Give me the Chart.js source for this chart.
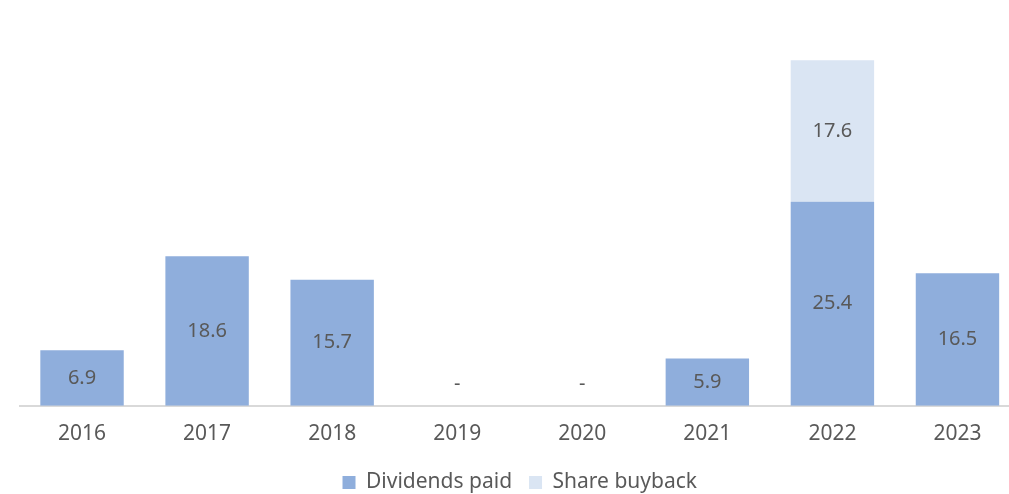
<!DOCTYPE html>
<html>
<head>
<meta charset="utf-8">
<script src="https://cdn.jsdelivr.net/npm/chart.js@4/dist/chart.umd.min.js"></script>
<style>
  html, body { margin: 0; padding: 0; background: #fff; overflow: hidden; }
  #wrap { width: 1009px; height: 494px; overflow: hidden; }
</style>
</head>
<body>
<div id="wrap"><canvas id="grafico" width="1020" height="503"></canvas></div>
<script>
const anios = ['2016', '2017', '2018', '2019', '2020', '2021', '2022', '2023'];
const dividendos = [6.9, 18.6, 15.7, 0, 0, 5.9, 25.4, 16.5];
const recompra = [null, null, null, null, null, null, 17.6, null];

const fuente = '"Noto Sans", sans-serif';
const gris = '#595959';

// Etiquetas de valor centradas en cada barra
const etiquetas = {
    id: 'etiquetas',
    afterDatasetsDraw(chart) {
        const ctx = chart.ctx;
        ctx.save();
        ctx.font = '20px ' + fuente;
        ctx.fillStyle = gris;
        ctx.textAlign = 'center';
        ctx.textBaseline = 'middle';
        chart.data.datasets.forEach((ds, i) => {
            const meta = chart.getDatasetMeta(i);
            meta.data.forEach((bar, j) => {
                const v = ds.data[j];
                if (v === null) return;
                if (v === 0) {
                    ctx.fillText('-', bar.x, bar.base - 22);
                    return;
                }
                ctx.fillText(v.toFixed(1), bar.x, (bar.y + bar.base) / 2);
            });
        });
        ctx.restore();
    }
};

new Chart(document.getElementById('grafico'), {
    type: 'bar',
    data: {
        labels: anios,
        datasets: [
            {
                label: 'Dividends paid',
                data: dividendos,
                backgroundColor: '#8FAEDC',
                barPercentage: 0.667,
                categoryPercentage: 1
            },
            {
                label: 'Share buyback',
                data: recompra,
                backgroundColor: '#DAE5F3',
                barPercentage: 0.667,
                categoryPercentage: 1
            }
        ]
    },
    options: {
        responsive: false,
        animation: false,
        layout: { padding: { left: 19.5, right: 0, top: 4, bottom: 0 } },
        scales: {
            x: {
                stacked: true,
                grid: { display: false },
                border: { color: '#D9D9D9', width: 2 },
                ticks: { color: gris, font: { family: fuente, size: 21 }, padding: 8 }
            },
            y: {
                stacked: true,
                display: false,
                min: 0,
                max: 50
            }
        },
        plugins: {
            tooltip: { enabled: false },
            legend: {
                position: 'bottom',
                labels: {
                    color: gris,
                    font: { family: fuente, size: 21 },
                    boxWidth: 13,
                    boxHeight: 13,
                    padding: 17
                }
            }
        }
    },
    plugins: [etiquetas]
});
</script>
</body>
</html>
